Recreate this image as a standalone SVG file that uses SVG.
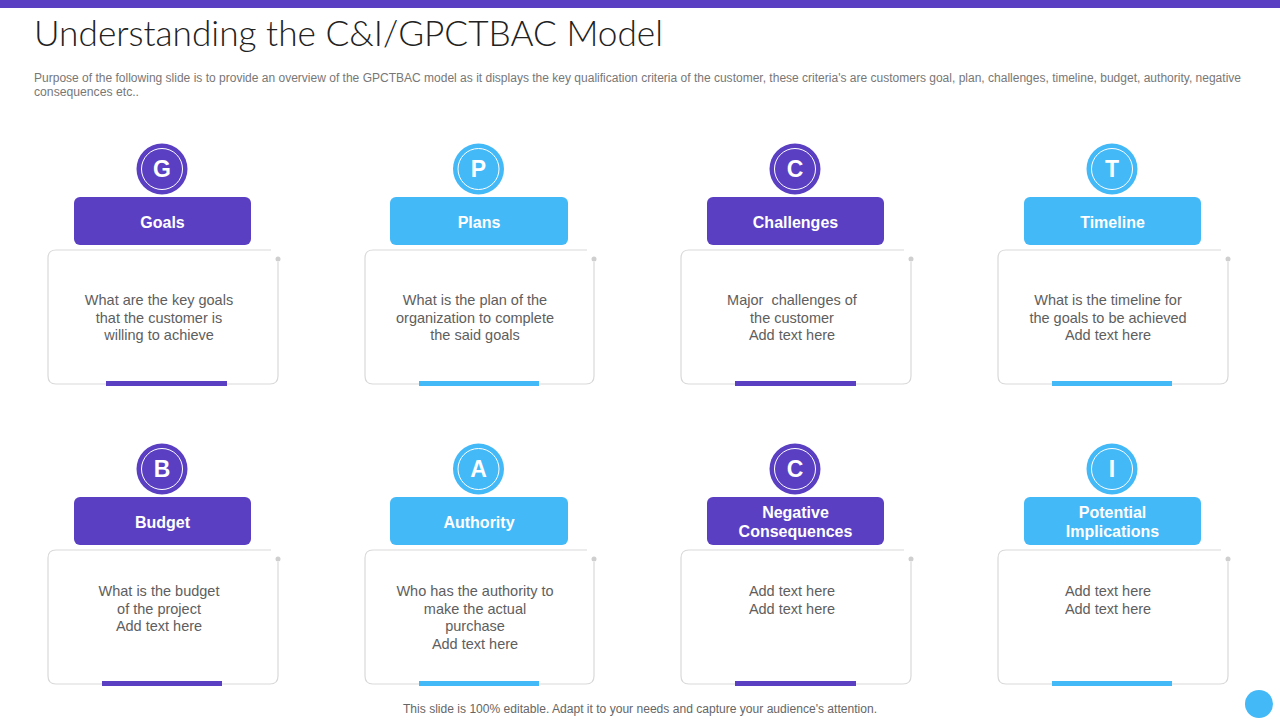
<svg xmlns="http://www.w3.org/2000/svg" width="1280" height="720" viewBox="0 0 1280 720">
<style>
.title{font-family:"Lato","Liberation Sans",sans-serif;font-weight:300;font-size:35px;fill:#222}
.sub{font-family:"Liberation Sans",Arial,sans-serif;font-size:12px;fill:#777}
.foot{font-family:"Liberation Sans",Arial,sans-serif;font-size:12px;fill:#666}
.card{fill:#fff;stroke:#d9d9d9;stroke-width:1.2}
.dot{fill:#cfcfcf}
.body{font-family:"Liberation Sans",Arial,sans-serif;font-size:14.5px;fill:#5e5e5e;text-anchor:middle}
.lab{font-family:"Liberation Sans",Arial,sans-serif;font-size:16px;font-weight:bold;fill:#fff;text-anchor:middle}
.let{font-family:"Liberation Sans",Arial,sans-serif;font-size:23px;font-weight:bold;fill:#fff;text-anchor:middle}
.ring{fill:none;stroke:#fff;stroke-width:1}
.p{fill:#5A3FC2}
.b{fill:#44B9F7}
</style>
<rect x="0" y="0" width="1280" height="8" class="p"/>
<text class="title" x="34" y="46" textLength="629" lengthAdjust="spacingAndGlyphs">Understanding the C&amp;I/GPCTBAC Model</text>
<text class="sub" x="34" y="82" textLength="1207" lengthAdjust="spacingAndGlyphs">Purpose of the following slide is to provide an overview of the GPCTBAC model as it displays the key qualification criteria of the customer, these criteria's are customers goal, plan, challenges, timeline, budget, authority, negative</text>
<text class="sub" x="34" y="96" textLength="105" lengthAdjust="spacingAndGlyphs">consequences etc..</text>

<g id="node-goals">
<circle cx="162" cy="169" r="25.5" class="p"/><circle cx="162" cy="169" r="20.5" class="ring"/>
<text class="let" x="162" y="177">G</text>
<rect x="74" y="197" width="177" height="48" rx="6" class="p"/>
<text class="lab" x="162.5" y="228">Goals</text>
<path class="card" d="M271 250 H56 Q48 250 48 258 V376 Q48 384 56 384 H270 Q278 384 278 376 V262"/>
<circle cx="278" cy="259" r="2.5" class="dot"/>
<rect x="106" y="381" width="121" height="5" class="p"/>
<text class="body" x="159"><tspan x="159" y="305">What are the key goals</tspan><tspan x="159" y="323">that the customer is</tspan><tspan x="159" y="340">willing to achieve</tspan></text>
</g>

<g id="node-plans">
<circle cx="478.5" cy="169" r="25.5" class="b"/><circle cx="478.5" cy="169" r="20.5" class="ring"/>
<text class="let" x="478.5" y="177">P</text>
<rect x="390" y="197" width="178" height="48" rx="6" class="b"/>
<text class="lab" x="479" y="228">Plans</text>
<path class="card" d="M587 250 H373 Q365 250 365 258 V376 Q365 384 373 384 H586 Q594 384 594 376 V262"/>
<circle cx="594" cy="259" r="2.5" class="dot"/>
<rect x="419" y="381" width="120" height="5" class="b"/>
<text class="body"><tspan x="475" y="305">What is the plan of the</tspan><tspan x="475" y="323">organization to complete</tspan><tspan x="475" y="340">the said goals</tspan></text>
</g>

<g id="node-challenges">
<circle cx="795" cy="169" r="25.5" class="p"/><circle cx="795" cy="169" r="20.5" class="ring"/>
<text class="let" x="795" y="177">C</text>
<rect x="707" y="197" width="177" height="48" rx="6" class="p"/>
<text class="lab" x="795.5" y="228">Challenges</text>
<path class="card" d="M904 250 H689 Q681 250 681 258 V376 Q681 384 689 384 H903 Q911 384 911 376 V262"/>
<circle cx="911" cy="259" r="2.5" class="dot"/>
<rect x="735" y="381" width="121" height="5" class="p"/>
<text class="body" xml:space="preserve"><tspan x="792" y="305">Major  challenges of</tspan><tspan x="792" y="323">the customer</tspan><tspan x="792" y="340">Add text here</tspan></text>
</g>

<g id="node-timeline">
<circle cx="1112" cy="169" r="25.5" class="b"/><circle cx="1112" cy="169" r="20.5" class="ring"/>
<text class="let" x="1112" y="177">T</text>
<rect x="1024" y="197" width="177" height="48" rx="6" class="b"/>
<text class="lab" x="1112.5" y="228">Timeline</text>
<path class="card" d="M1221 250 H1006 Q998 250 998 258 V376 Q998 384 1006 384 H1220 Q1228 384 1228 376 V262"/>
<circle cx="1228" cy="259" r="2.5" class="dot"/>
<rect x="1052" y="381" width="120" height="5" class="b"/>
<text class="body"><tspan x="1108" y="305">What is the timeline for</tspan><tspan x="1108" y="323">the goals to be achieved</tspan><tspan x="1108" y="340">Add text here</tspan></text>
</g>

<g id="node-budget">
<circle cx="162" cy="469" r="25.5" class="p"/><circle cx="162" cy="469" r="20.5" class="ring"/>
<text class="let" x="162" y="477">B</text>
<rect x="74" y="497" width="177" height="48" rx="6" class="p"/>
<text class="lab" x="162.5" y="528">Budget</text>
<path class="card" d="M271 550 H56 Q48 550 48 558 V676 Q48 684 56 684 H270 Q278 684 278 676 V562"/>
<circle cx="278" cy="559" r="2.5" class="dot"/>
<rect x="102" y="681" width="120" height="5" class="p"/>
<text class="body"><tspan x="159" y="596">What is the budget</tspan><tspan x="159" y="614">of the project</tspan><tspan x="159" y="631">Add text here</tspan></text>
</g>

<g id="node-authority">
<circle cx="478.5" cy="469" r="25.5" class="b"/><circle cx="478.5" cy="469" r="20.5" class="ring"/>
<text class="let" x="478.5" y="477">A</text>
<rect x="390" y="497" width="178" height="48" rx="6" class="b"/>
<text class="lab" x="479" y="528">Authority</text>
<path class="card" d="M587 550 H373 Q365 550 365 558 V676 Q365 684 373 684 H586 Q594 684 594 676 V562"/>
<circle cx="594" cy="559" r="2.5" class="dot"/>
<rect x="419" y="681" width="120" height="5" class="b"/>
<text class="body"><tspan x="475" y="596">Who has the authority to</tspan><tspan x="475" y="614">make the actual</tspan><tspan x="475" y="631">purchase</tspan><tspan x="475" y="649">Add text here</tspan></text>
</g>

<g id="node-negative">
<circle cx="795" cy="469" r="25.5" class="p"/><circle cx="795" cy="469" r="20.5" class="ring"/>
<text class="let" x="795" y="477">C</text>
<rect x="707" y="497" width="177" height="48" rx="6" class="p"/>
<text class="lab"><tspan x="795.5" y="518">Negative</tspan><tspan x="795.5" y="537">Consequences</tspan></text>
<path class="card" d="M904 550 H689 Q681 550 681 558 V676 Q681 684 689 684 H903 Q911 684 911 676 V562"/>
<circle cx="911" cy="559" r="2.5" class="dot"/>
<rect x="735" y="681" width="121" height="5" class="p"/>
<text class="body"><tspan x="792" y="596">Add text here</tspan><tspan x="792" y="614">Add text here</tspan></text>
</g>

<g id="node-potential">
<circle cx="1112" cy="469" r="25.5" class="b"/><circle cx="1112" cy="469" r="20.5" class="ring"/>
<text class="let" x="1112" y="477">I</text>
<rect x="1024" y="497" width="177" height="48" rx="6" class="b"/>
<text class="lab"><tspan x="1112.5" y="518">Potential</tspan><tspan x="1112.5" y="537">Implications</tspan></text>
<path class="card" d="M1221 550 H1006 Q998 550 998 558 V676 Q998 684 1006 684 H1220 Q1228 684 1228 676 V562"/>
<circle cx="1228" cy="559" r="2.5" class="dot"/>
<rect x="1052" y="681" width="120" height="5" class="b"/>
<text class="body"><tspan x="1108" y="596">Add text here</tspan><tspan x="1108" y="614">Add text here</tspan></text>
</g>

<g id="connectors"></g>

<text class="foot" x="640" y="713" text-anchor="middle" textLength="474" lengthAdjust="spacingAndGlyphs">This slide is 100% editable. Adapt it to your needs and capture your audience's attention.</text>
<circle cx="1259" cy="704" r="14" class="b"/>
</svg>
